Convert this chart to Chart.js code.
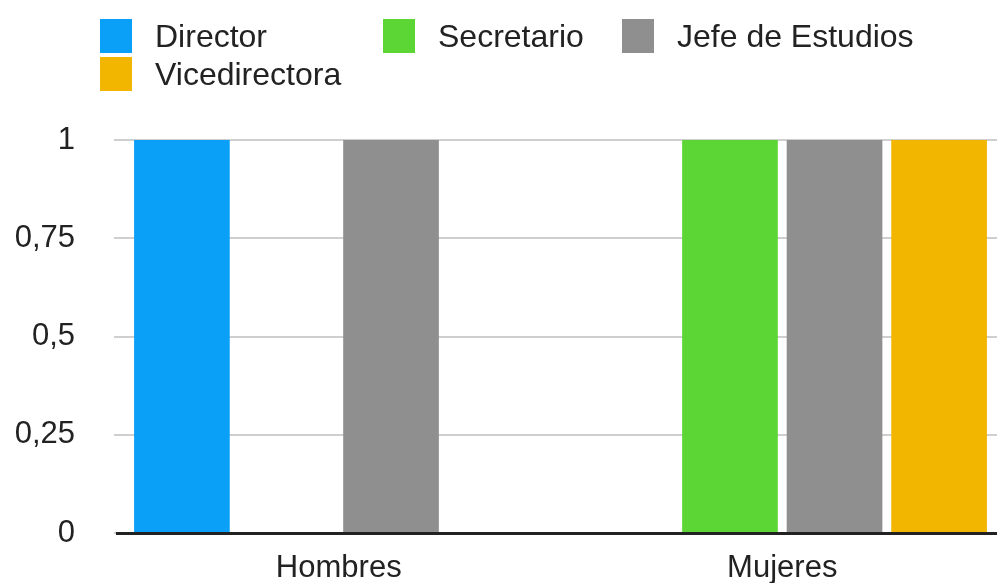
<!DOCTYPE html>
<html>
<head>
<meta charset="utf-8">
<script src="https://cdn.jsdelivr.net/npm/chart.js@4"></script>
<style>
  html, body { margin: 0; padding: 0; background: #fff; }
  body { width: 997px; height: 584px; overflow: hidden; position: relative; }
  #chart { position: absolute; left: 0; top: 0; }
  #legend { position: absolute; left: 0; top: 0; width: 997px; height: 110px;
    font-family: "Liberation Sans", Arial, Helvetica, sans-serif; font-size: 32px; color: #222; }
  .item { position: absolute; display: flex; align-items: center; height: 34px; }
  .box { width: 32px; height: 34px; margin-right: 23px; }
</style>
</head>
<body>
<canvas id="chart" width="1010" height="584"></canvas>
<div id="legend"></div>
<script>
const categories = ["Hombres", "Mujeres"];
const seriesNames = ["Director", "Secretario", "Jefe de Estudios", "Vicedirectora"];
const seriesColors = ["#0aa0f8", "#5cd634", "#8f8f8f", "#f2b500"];
const director = [1, 0];
const secretario = [0, 1];
const jefeEstudios = [1, 1];
const vicedirectora = [0, 1];
const yTickValues = [0, 0.25, 0.5, 0.75, 1];
const yTickLabels = ["0", "0,25", "0,5", "0,75", "1"];

// legend slots: [left, top]
const legendSlots = [[100, 19], [383, 19], [622, 19], [100, 57]];

const seriesValues = [director, secretario, jefeEstudios, vicedirectora];
const FONT = "'Liberation Sans', Arial, Helvetica, sans-serif";

function buildLegend() {
  const el = document.getElementById("legend");
  seriesNames.forEach((name, i) => {
    const item = document.createElement("div");
    item.className = "item";
    item.style.left = legendSlots[i][0] + "px";
    item.style.top = legendSlots[i][1] + "px";
    item.innerHTML = `<span class="box" style="background:${seriesColors[i]}"></span><span>${name}</span>`;
    el.appendChild(item);
  });
}

function createChart() {
  const ctx = document.getElementById("chart").getContext("2d");
  return new Chart(ctx, {
    type: "bar",
    data: {
      labels: categories,
      datasets: seriesNames.map((name, i) => ({
        label: name,
        data: seriesValues[i],
        backgroundColor: seriesColors[i],
        borderWidth: 0,
        categoryPercentage: 0.943,
        barPercentage: 0.915,
      }))
    },
    options: {
      responsive: false,
      animation: false,
      layout: { padding: { top: 140, right: 6, bottom: 1, left: 0 } },
      plugins: { legend: { display: false }, tooltip: { enabled: false } },
      scales: {
        x: {
          grid: { display: false, drawTicks: false },
          border: { display: true, color: "#222", width: 3 },
          ticks: { font: { family: FONT, size: 31 }, color: "#222", padding: 17 },
          afterFit(scale) {
            scale.height = 50;
          },
        },
        y: {
          min: 0,
          max: 1,
          afterBuildTicks(scale) {
            scale.ticks = yTickValues.map(v => ({ value: v }));
          },
          grid: { color: "#cfcfcf", lineWidth: 2, tickLength: 3 },
          border: { display: false },
          ticks: {
            font: { family: FONT, size: 31 },
            color: "#222",
            padding: 39,
            callback: (value, index) => yTickLabels[index],
          },
          afterFit(scale) {
            scale.width = 117;
            // the big label padding should not push the plot area up
            scale.paddingTop = 0;
            scale.paddingBottom = 0;
          },
        }
      }
    }
  });
}

buildLegend();
createChart();
</script>
</body>
</html>
